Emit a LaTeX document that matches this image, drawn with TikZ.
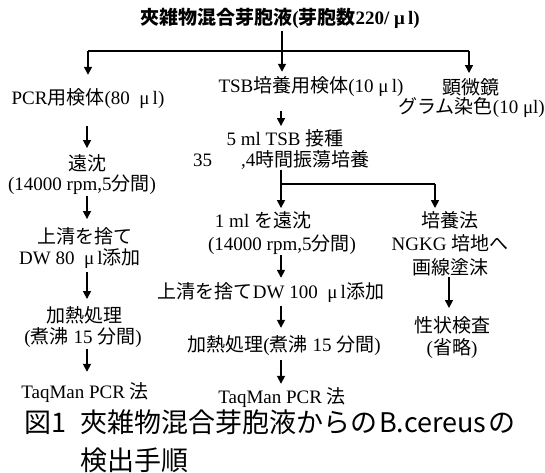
\documentclass[tikz,border=0pt]{standalone}
\usepackage{fontspec}
\setmainfont{Liberation Serif}
\newfontfamily\jp{Noto Sans CJK JP}
\usetikzlibrary{arrows.meta}
\newcommand\bodyfont{\fontsize{19}{21}\selectfont}
\begin{document}
\begin{tikzpicture}[x=1pt,y=-1pt,
  txt/.style={inner sep=0pt, font=\bodyfont},
  ln/.style={line width=1.6pt},
  arr/.style={line width=1.6pt,-{Triangle[length=8pt,width=8pt]}}]
\useasboundingbox (0,0) rectangle (545,472);
% title
\node[inner sep=0pt, font=\fontsize{19}{21}\selectfont\bfseries] (t) at (280,18) {{\jp 夾雑物混合芽胞液}({\jp 芽胞数}220/ μ\,l)};
\coordinate (jt) at (282,51);
\coordinate (jl) at (88,51);
\coordinate (jr) at (469,51);
% first level
\node[txt] (pcr) at (88,99) {PCR{\jp 用検体}(80\ \ μ\,l)};
\node[txt] (tsb) at (311,87) {TSB{\jp 培養用検体}(10 μ\,l)};
\node[txt] (ken) at (471,87) {{\jp 顕微鏡}};
\node[txt,anchor=east] (gram) at (545,108) {{\jp グラム染色}(10 μl)};
% left column
\node[txt] (l1) at (87,163) {{\jp 遠沈}};
\node[txt] (l2) at (82,185) {(14000 rpm,5{\jp 分間})};
\node[txt] (l3) at (85,236) {{\jp 上清を捨て}};
\node[txt] (l4) at (80,259) {DW 80\ \ μ\,l{\jp 添加}};
\node[txt] (l5) at (84,315) {{\jp 加熱処理}};
\node[txt] (l6) at (83,338) {({\jp 煮沸} 15 {\jp 分間})};
\node[txt] (l7) at (85,393) {TaqMan PCR {\jp 法}};
% middle column
\node[txt] (m1) at (285,138) {5 ml TSB {\jp 接種}};
\node[txt,anchor=west] (m2) at (193,160) {35\hspace{29pt},4{\jp 時間振蕩培養}};
\node[txt] (m3) at (263,220) {1 ml {\jp を遠沈}};
\node[txt] (m4) at (282,245) {(14000 rpm,5{\jp 分間})};
\node[txt] (m5) at (271,293) {{\jp 上清を捨て}DW 100\ \ μ\,l{\jp 添加}};
\node[txt] (m6) at (284,346) {{\jp 加熱処理}({\jp 煮沸} 15 {\jp 分間})};
\node[txt] (m7) at (282,398) {TaqMan PCR {\jp 法}};
\coordinate (jm) at (281,184);
\coordinate (jb) at (435,184);
% right column
\node[txt] (r1) at (450,220) {{\jp 培養法}};
\node[txt] (r2) at (450,243) {NGKG {\jp 培地へ}};
\node[txt] (r3) at (450,267) {{\jp 画線塗沫}};
\node[txt] (r4) at (452,325) {{\jp 性状検査}};
\node[txt] (r5) at (452,348) {({\jp 省略})};
% caption
\node[inner sep=0pt, anchor=west, font=\fontsize{27}{30}\selectfont\jp] (c1) at (24,422) {図1\hspace{14pt}夾雑物混合芽胞液からの\hspace{2pt}B.cereus\hspace{2pt}の};
\node[inner sep=0pt, anchor=west, font=\fontsize{27}{30}\selectfont\jp] (c2) at (80,460) {検出手順};
% connectors
\draw[ln] ([yshift=-3pt]t.south -| jt) -- (jt);
\draw[ln] (jl) -- (jr);
\draw[arr] (jl) -- ([yshift=14pt]pcr.north -| jl);
\draw[arr] (jt) -- ([yshift=5pt]tsb.north -| jt);
\draw[arr] (jr) -- ([yshift=5pt]ken.north -| jr);
% left
\draw[arr] ([yshift=-17pt]pcr.south -| l1) -- ([yshift=6pt]l1.north);
\draw[arr] ([yshift=-1pt]l2.south -| l1) -- ([yshift=8pt]l3.north -| l1);
\draw[arr] ([yshift=-3pt]l4.south -| l1) -- ([yshift=7pt]l5.north -| l1);
\draw[arr] ([yshift=-1pt]l6.south -| l1) -- ([yshift=11pt]l7.north -| l1);
% middle
\draw[arr] ([yshift=-14pt]tsb.south -| jm) -- ([yshift=3pt]m1.north -| jm);
\draw[arr] ([yshift=0pt]m2.south -| jm) -- ([yshift=3pt]m3.north -| jm);
\draw[ln] (jm) -- (jb);
\draw[arr] (jb) -- ([yshift=3pt]r1.north -| jb);
\draw[arr] ([yshift=0pt]m4.south -| jm) -- ([yshift=5pt]m5.north -| jm);
\draw[arr] ([yshift=-3pt]m5.south -| jm) -- ([yshift=8pt]m6.north -| jm);
\draw[arr] ([yshift=-4pt]m6.south -| jm) -- ([yshift=4pt]m7.north -| jm);
% right
\draw[arr] ([yshift=-1pt]r3.south -| 449,0) -- ([yshift=8pt]r4.north -| 449,0);
\end{tikzpicture}
\end{document}
